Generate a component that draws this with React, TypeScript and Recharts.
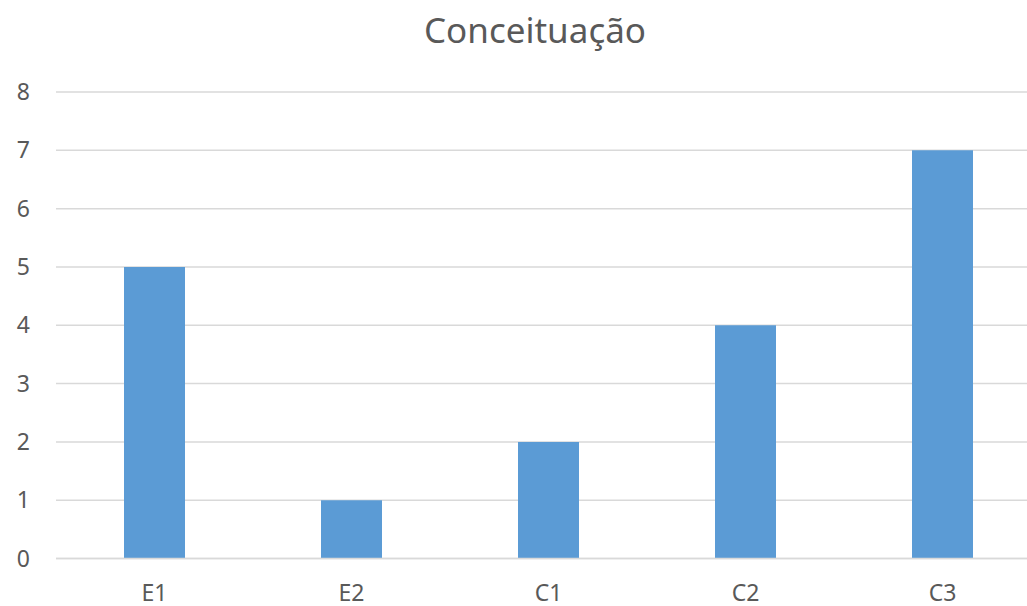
import { BarChart, Bar, XAxis, YAxis, CartesianGrid } from 'recharts';

const categories = ['E1', 'E2', 'C1', 'C2', 'C3'];
const values = [5, 1, 2, 4, 7];
const yTicks = [0, 1, 2, 3, 4, 5, 6, 7, 8];

const chartData = categories.map((name, i) => ({ name, value: values[i] }));

const FONT = '"Noto Sans", "Open Sans", sans-serif';
const TEXT_COLOR = '#595959';
const GRID_COLOR = '#d9d9d9';

const AxisTick = (props: any) => {
    const { x, y, payload, anchor, dy } = props;
    return (
        <text
            x={x}
            y={y}
            dy={dy}
            textAnchor={anchor}
            dominantBaseline="central"
            fill={TEXT_COLOR}
            fontSize={23}
            fontFamily={FONT}
        >
            {payload.value}
        </text>
    );
};

export default function App() {
    return (
        <div style={{ position: 'absolute', left: 0, top: 0, width: 1027, height: 606, overflow: 'hidden', background: '#fff' }}>
            {/* chart title, centered on the full (wider) chart */}
            <div
                style={{
                    position: 'absolute',
                    left: 0,
                    top: 6,
                    width: 1070,
                    textAlign: 'center',
                    fontFamily: FONT,
                    fontSize: 35,
                    color: TEXT_COLOR,
                }}
            >
                Conceituação
            </div>
            <BarChart
                width={1070}
                height={606}
                data={chartData}
                margin={{ top: 92, right: 29, bottom: 17.5, left: 0 }}
            >
                <CartesianGrid vertical={false} stroke={GRID_COLOR} strokeWidth={1.5} />
                <XAxis
                    dataKey="name"
                    height={30}
                    axisLine={{ stroke: GRID_COLOR, strokeWidth: 1.5 }}
                    tickLine={false}
                    tickMargin={0}
                    tick={<AxisTick anchor="middle" dy={27} />}
                />
                <YAxis
                    width={56}
                    domain={[0, 8]}
                    ticks={yTicks}
                    axisLine={false}
                    tickLine={false}
                    tickMargin={20}
                    tick={<AxisTick anchor="end" dy={-1} />}
                />
                <Bar dataKey="value" fill="#5b9bd5" barSize={61} isAnimationActive={false} />
            </BarChart>
        </div>
    );
}
